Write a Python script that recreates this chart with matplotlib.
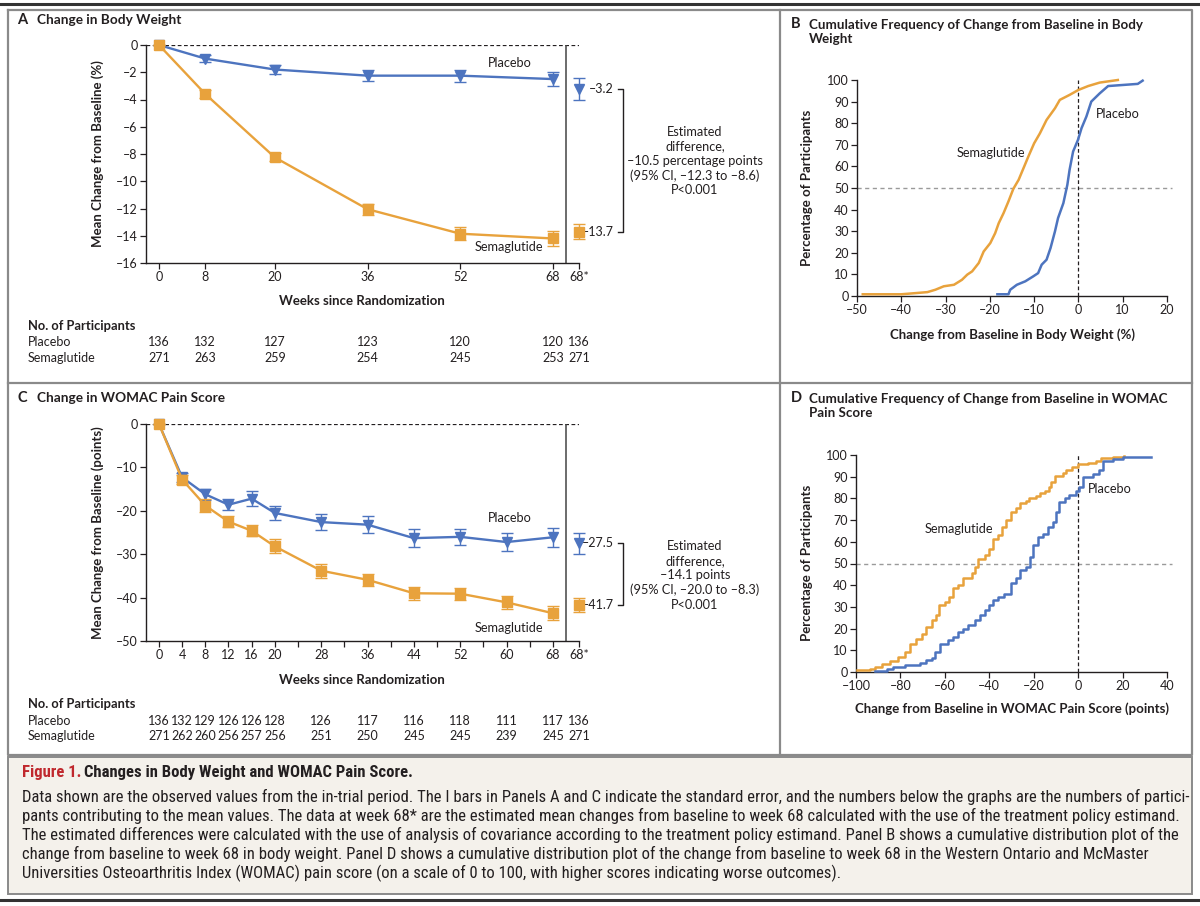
import numpy as np
import matplotlib
matplotlib.use("Agg")
import matplotlib.pyplot as plt
from matplotlib import transforms
from matplotlib.lines import Line2D
from matplotlib.patches import Rectangle

W, H = 1200, 906
BLUE = '#4d74bf'; ORANGE = '#e8a23c'; INK = '#231f20'; FRAME = '#8a8a8a'; RED = '#c0282d'
plt.rcParams['font.family'] = ['Lato', 'DejaVu Sans']
CAPFONT = ['Roboto Condensed', 'Lato', 'DejaVu Sans']

# ---- Panel A: body weight, mean change from baseline (%)
wk_a = [0, 8, 20, 36, 52, 68]
wk_a_lab = ['0', '8', '20', '36', '52', '68']
pla_a = [0, -1.0, -1.8, -2.25, -2.25, -2.5]
pla_a_se = [0, 0.27, 0.36, 0.39, 0.44, 0.52]
sem_a = [0, -3.6, -8.25, -12.05, -13.85, -14.2]
sem_a_se = [0, 0.3, 0.3, 0.4, 0.48, 0.58]
est_pla_a, est_pla_a_se = -3.2, 0.8
est_sem_a, est_sem_a_se = -13.7, 0.53
n_pla_a = [136, 132, 127, 123, 120, 120, 136]
n_sem_a = [271, 263, 259, 254, 245, 253, 271]
diff_a = "Estimated\ndifference,\n\u201310.5 percentage points\n(95% CI, \u201312.3 to \u20138.6)\nP<0.001"

# ---- Panel C: WOMAC pain score, mean change from baseline (points)
wk_c = [0, 4, 8, 12, 16, 20, 28, 36, 44, 52, 60, 68]
pla_c = [0, -12.3, -16.2, -18.6, -17.2, -20.5, -22.6, -23.2, -26.3, -26.0, -27.2, -26.1]
pla_c_se = [0, 1.1, 1.2, 1.3, 1.8, 1.7, 1.9, 2.0, 2.0, 1.9, 2.1, 2.2]
sem_c = [0, -12.8, -18.8, -22.5, -24.6, -28.2, -33.8, -35.9, -39.0, -39.1, -41.1, -43.6]
sem_c_se = [0, 1.1, 1.5, 1.3, 1.3, 1.6, 1.6, 1.4, 1.5, 1.4, 1.5, 1.6]
est_pla_c, est_pla_c_se = -27.5, 2.5
est_sem_c, est_sem_c_se = -41.7, 1.7
n_pla_c = [136, 132, 129, 126, 126, 128, 126, 117, 116, 118, 111, 117, 136]
n_sem_c = [271, 262, 260, 256, 257, 256, 251, 250, 245, 245, 239, 245, 271]
diff_c = "Estimated\ndifference,\n\u201314.1 points\n(95% CI, \u201320.0 to \u20138.3)\nP<0.001"

# ---- Panel B: cumulative frequency, body weight change (%)
b_sem_x = [-48.7, -40, -36.4, -34.1, -32.3, -30.4, -28.1, -26.3, -25.1, -24, -22.5, -21.4, -19.9, -18.8,
           -18, -16.9, -15.8, -14.7, -13.5, -12.4, -11.3, -10, -8.7, -7.2, -5.3, -4.2, -2, 0, 2.2, 4.8, 8.9]
b_sem_y = [0.8, 0.8, 1.4, 1.8, 2.9, 4.5, 5.2, 7.5, 9.9, 11.4, 15.3, 20.6, 24.5, 29.1,
           33.7, 38.4, 43.8, 49.6, 53.8, 59.2, 64.6, 70.7, 75.3, 81.5, 86.9, 90.8, 93.1, 95.4, 97.2, 98.8, 100]
b_pla_x = [-18.3, -15.8, -15.4, -13.9, -12.0, -10.2, -9.1, -8.3, -7.2, -6.3, -5.3, -4.6, -3.4, -2.5,
           -2, -1.2, -0.1, 0.7, 1.8, 2.9, 4.8, 6.7, 13.4, 14.5]
b_pla_y = [0.8, 0.8, 2.9, 5.2, 6.8, 9.1, 10.6, 14.5, 16.8, 22.2, 29.9, 36.1, 43.0, 51.5,
           58.4, 66.9, 72.3, 77.7, 83.1, 90.0, 93.8, 97.2, 98.2, 99.7]

# ---- Panel D: cumulative frequency, WOMAC pain change (points)
d_sem_x = [-99.4, -93.7, -91.5, -88.5, -84.7, -81, -78, -75.7, -72.8, -70.5, -68.3, -66, -64.1, -62.6,
           -60, -58.1, -56.3, -54, -51.8, -48, -46.6, -45.1, -42.1, -40.1, -38.3, -36.1, -34.1, -32.3,
           -30.1, -27.8, -26, -23.4, -21.9, -18.9, -17.1, -15.1, -12.9, -12.1, -10.2, -6.9, -5.4, -2.7,
           -0.1, 4.3, 8.1, 10.3, 15.6, 20.8]
d_sem_y = [0.8, 1.2, 2.3, 3.8, 4.9, 6.9, 9.2, 13.1, 15.4, 17.7, 20.8, 23.8, 26.2, 30.8,
           32.3, 34.6, 38.5, 40.0, 43.1, 45.4, 48.5, 52.3, 53.8, 56.9, 61.5, 63.1, 66.9, 70,
           73.8, 75.7, 77.7, 78.9, 80.3, 81.1, 82.3, 83.4, 85.4, 87.4, 90.5, 91.5, 93.1, 94.6,
           95.7, 96.5, 97.2, 98.8, 99.2, 99.7]
d_pla_x = [-91.5, -86.2, -83.2, -78, -71.3, -68.3, -66, -64.5, -62.3, -58.5, -56.3, -54, -51.8, -49.6,
           -46.6, -44.3, -42.1, -40.1, -38.3, -36.1, -33.5, -30.1, -27.8, -26, -23.4, -21.6, -20.1, -18.1,
           -15.9, -13.6, -11.4, -9.9, -8.4, -6.1, -3.9, -0.9, 0.6, 2.4, 6.6, 9.6, 11.1, 15.6, 20.1, 32.8]
d_pla_y = [0.3, 1.2, 2.3, 3.1, 4.3, 5.4, 6.5, 9.2, 13.1, 14.6, 16.2, 18.5, 20, 21.5,
           23.8, 26.2, 28.5, 30.8, 33.1, 34.6, 35.8, 40.8, 43.1, 46.9, 48.5, 53.1, 58.5, 62.3,
           63.8, 66.9, 69.2, 73.8, 78.5, 80, 81.5, 83.4, 85.4, 90, 91.1, 93.1, 97.2, 98.2, 99.2, 99.2]

caption = [
    "Data shown are the observed values from the in-trial period. The I bars in Panels A and C indicate the standard error, and the numbers below the graphs are the numbers of partici-",
    "pants contributing to the mean values. The data at week 68* are the estimated mean changes from baseline to week 68 calculated with the use of the treatment policy estimand.",
    "The estimated differences were calculated with the use of analysis of covariance according to the treatment policy estimand. Panel B shows a cumulative distribution plot of the",
    "change from baseline to week 68 in body weight. Panel D shows a cumulative distribution plot of the change from baseline to week 68 in the Western Ontario and McMaster",
    "Universities Osteoarthritis Index (WOMAC) pain score (on a scale of 0 to 100, with higher scores indicating worse outcomes).",
]

X_STAR = 72.5  # slot of the "68*" column on the week axis
fig = plt.figure(figsize=(12, 9.06), dpi=100)


def axes_px(l, t, r, b):
    return fig.add_axes([l / W, 1 - b / H, (r - l) / W, (b - t) / H])


def ftext(x, y, s, **kw):
    return fig.text(x / W, 1 - y / H, s, **kw)


def fline(xs, ys, **kw):
    fig.add_artist(Line2D([x / W for x in xs], [1 - y / H for y in ys], **kw))


def dash(v):
    return f"{v:g}".replace("-", "\u2013")


def style(ax):
    for s in ['top', 'right']:
        ax.spines[s].set_visible(False)
    for s in ['left', 'bottom']:
        ax.spines[s].set_color(INK); ax.spines[s].set_linewidth(1.0)
    ax.tick_params(direction='out', length=4, width=0.9, color=INK, labelsize=9, labelcolor=INK, pad=2)


def trend(ax, weeks, labels, pla, pla_se, sem, sem_se, ep, eps, es, ess, ymin, ystep, top, bot, diff, n_p, n_s, rows_y):
    style(ax)
    ax.set_xlim(-2.24, X_STAR); ax.set_ylim(ymin, 0)
    ax.axhline(0, color=INK, ls=(0, (3, 2)), lw=0.9, zorder=1)
    ax.axvline(70.2, color='#444444', lw=1.1, zorder=1)
    yt = np.arange(ymin, 1, ystep)
    ax.set_yticks(yt); ax.set_yticklabels([dash(v) for v in yt])
    for y, se, c, m, z in [(pla, pla_se, BLUE, 'v', 3), (sem, sem_se, ORANGE, 's', 4)]:
        art = ax.errorbar(weeks, y, yerr=se, color=c, marker=m, ms=6.5, lw=1.7, elinewidth=1.0,
                          capsize=4, capthick=1.0, zorder=z)
        for a in art.get_children():
            a.set_clip_on(False)
    for y, se, c, m in [(ep, eps, BLUE, 'v'), (es, ess, ORANGE, 's')]:
        art = ax.errorbar([X_STAR], [y], yerr=[se], color=c, marker=m, ms=6.5, ls='none', elinewidth=1.0,
                          capsize=4, capthick=1.0, zorder=4)
        for a in art.get_children():
            a.set_clip_on(False)
    # right-hand bracket with estimates
    tr = transforms.blended_transform_factory(fig.transFigure, ax.transData)
    for v in (ep, es):
        ax.text(614 / W, v, dash(v), transform=tr, fontsize=9, va='center', ha='right', color=INK)
    ax.plot([618 / W, 623 / W, 623 / W, 618 / W], [ep, ep, es, es], transform=tr, color=INK, lw=1.0, clip_on=False)
    ftext(695, (top + bot) / 2, diff, fontsize=9.2, ha='center', va='center', linespacing=1.25, color=INK)
    # participant table
    pos = list(weeks) + [X_STAR]
    ax.set_xticks(pos); ax.set_xticklabels(labels + ['68*'])
    trn = transforms.blended_transform_factory(ax.transData, fig.transFigure)
    ftext(28, rows_y[0], "No. of Participants", fontsize=9.3, fontweight='bold', va='center', color=INK)
    for lab, vals, yy in [("Placebo", n_p, rows_y[1]), ("Semaglutide", n_s, rows_y[2])]:
        ftext(28, yy, lab, fontsize=9, va='center', color=INK)
        for x, v in zip(pos, vals):
            ax.text(x, 1 - yy / H, str(v), transform=trn, fontsize=9, ha='center', va='center', color=INK)


def cdf(ax, sx, sy, px_, py, xlim, xstep, steps):
    style(ax)
    ax.set_xlim(*xlim); ax.set_ylim(0, 100)
    ax.set_yticks(np.arange(0, 101, 10))
    xt = np.arange(xlim[0], xlim[1] + 1, xstep)
    ax.set_xticks(xt); ax.set_xticklabels([dash(v) for v in xt])
    ds = 'steps-post' if steps else 'default'
    ax.plot(sx, sy, color=ORANGE, lw=1.8, drawstyle=ds, clip_on=False, zorder=3)
    ax.plot(px_, py, color=BLUE, lw=1.8, drawstyle=ds, clip_on=False, zorder=3)
    ax.plot([xlim[0], xlim[1] + (xlim[1] - xlim[0]) * 0.016], [50, 50], color='#9a9a9a', ls=(0, (3, 2.5)),
            lw=1.0, clip_on=False, zorder=1)
    ax.plot([0, 0], [0, 100], color=INK, ls=(0, (3, 2)), lw=0.9, zorder=2)


# ---- frames
fline([0, 1200], [4, 4], color='#333333', lw=2.2)
fline([8, 1192, 1192, 8, 8], [10, 10, 755, 755, 10], color=FRAME, lw=1.6)
fline([8, 1192], [383, 383], color=FRAME, lw=1.6)
fline([780, 780], [10, 755], color=FRAME, lw=1.6)
fig.add_artist(Rectangle((8 / W, 1 - 894 / H), 1184 / W, 137 / H, transform=fig.transFigure,
                         facecolor='#f4f1eb', edgecolor=FRAME, lw=1.4))
fline([0, 1200], [900, 900], color='#333333', lw=2.2)

# ---- Panel A
axA = axes_px(146, 45, 579, 263)
trend(axA, wk_a, wk_a_lab, pla_a, pla_a_se, sem_a, sem_a_se, est_pla_a, est_pla_a_se, est_sem_a, est_sem_a_se,
      -16, 2, 89, 233, diff_a, n_pla_a, n_sem_a, (326, 342, 358))
ftext(17, 20, "A", fontsize=10.5, fontweight='bold', va='center', color=INK)
ftext(37, 20, "Change in Body Weight", fontsize=9.8, fontweight='bold', va='center', color=INK)
ftext(98, 154, "Mean Change from Baseline (%)", fontsize=9.5, fontweight='bold', rotation=90, ha='center', va='center', color=INK)
ftext(362, 301, "Weeks since Randomization", fontsize=9.5, fontweight='bold', ha='center', va='center', color=INK)
ftext(510, 63, "Placebo", fontsize=9.2, ha='center', va='center', color=INK)
ftext(509, 247, "Semaglutide", fontsize=9.2, ha='center', va='center', color=INK)

# ---- Panel C
axC = axes_px(146, 424, 579, 641)
wk_c_lab = [str(w) for w in wk_c]
trend(axC, wk_c, wk_c_lab, pla_c, pla_c_se, sem_c, sem_c_se, est_pla_c, est_pla_c_se, est_sem_c, est_sem_c_se,
      -50, 10, 544, 607, diff_c, n_pla_c, n_sem_c, (704, 721, 736))
minor = [24, 32, 40, 48, 56, 64]
ticks = sorted(wk_c + minor) + [X_STAR]
axC.set_xticks(ticks)
axC.set_xticklabels([str(t) if t in wk_c else ('68*' if t == X_STAR else '') for t in ticks])
ftext(17, 398, "C", fontsize=10.5, fontweight='bold', va='center', color=INK)
ftext(37, 398, "Change in WOMAC Pain Score", fontsize=9.8, fontweight='bold', va='center', color=INK)
ftext(98, 533, "Mean Change from Baseline (points)", fontsize=9.5, fontweight='bold', rotation=90, ha='center', va='center', color=INK)
ftext(362, 680, "Weeks since Randomization", fontsize=9.5, fontweight='bold', ha='center', va='center', color=INK)
ftext(510, 518, "Placebo", fontsize=9.2, ha='center', va='center', color=INK)
ftext(509, 628, "Semaglutide", fontsize=9.2, ha='center', va='center', color=INK)

# ---- Panel B
axB = axes_px(857, 80, 1167, 296)
cdf(axB, b_sem_x, b_sem_y, b_pla_x, b_pla_y, (-50, 20), 10, False)
ftext(791, 24, "B", fontsize=10.5, fontweight='bold', va='center', color=INK)
ftext(809, 32, "Cumulative Frequency of Change from Baseline in Body\nWeight", fontsize=9.6, fontweight='bold',
      va='center', linespacing=1.25, color=INK)
ftext(807, 188, "Percentage of Participants", fontsize=9.5, fontweight='bold', rotation=90, ha='center', va='center', color=INK)
ftext(1012, 335, "Change from Baseline in Body Weight (%)", fontsize=9.5, fontweight='bold', ha='center', va='center', color=INK)
ftext(991, 153, "Semaglutide", fontsize=9.2, ha='center', va='center', color=INK)
ftext(1118, 114, "Placebo", fontsize=9.2, ha='center', va='center', color=INK)

# ---- Panel D
axD = axes_px(856, 455, 1167, 672)
cdf(axD, d_sem_x, d_sem_y, d_pla_x, d_pla_y, (-100, 40), 20, True)
ftext(791, 398, "D", fontsize=10.5, fontweight='bold', va='center', color=INK)
ftext(809, 406, "Cumulative Frequency of Change from Baseline in WOMAC\nPain Score", fontsize=9.6, fontweight='bold',
      va='center', linespacing=1.25, color=INK)
ftext(807, 563, "Percentage of Participants", fontsize=9.5, fontweight='bold', rotation=90, ha='center', va='center', color=INK)
ftext(1012, 709, "Change from Baseline in WOMAC Pain Score (points)", fontsize=9.5, fontweight='bold', ha='center', va='center', color=INK)
ftext(959, 529, "Semaglutide", fontsize=9.2, ha='center', va='center', color=INK)
ftext(1110, 489, "Placebo", fontsize=9.2, ha='center', va='center', color=INK)

# ---- caption: size the font so the longest line spans the text column (~1158 px)
r = fig.canvas.get_renderer()
probe = ftext(22, 797, caption[0], family=CAPFONT, fontsize=10, color=INK, va='center')
cap_size = 10 * 1156 / probe.get_window_extent(r).width
probe.remove()
t1 = ftext(22, 772, "Figure 1.", family=CAPFONT, fontsize=cap_size, fontweight='bold', color=RED, va='center')
x_end = t1.get_window_extent(r).x1
fig.text((x_end + 3) / W, 1 - 772 / H, "Changes in Body Weight and WOMAC Pain Score.", family=CAPFONT,
         fontsize=cap_size, fontweight='bold', color=INK, va='center')
for i, line in enumerate(caption):
    ftext(22, 797 + 19 * i, line, family=CAPFONT, fontsize=cap_size, color=INK, va='center')

fig.savefig("out.png", dpi=100, facecolor='white')
